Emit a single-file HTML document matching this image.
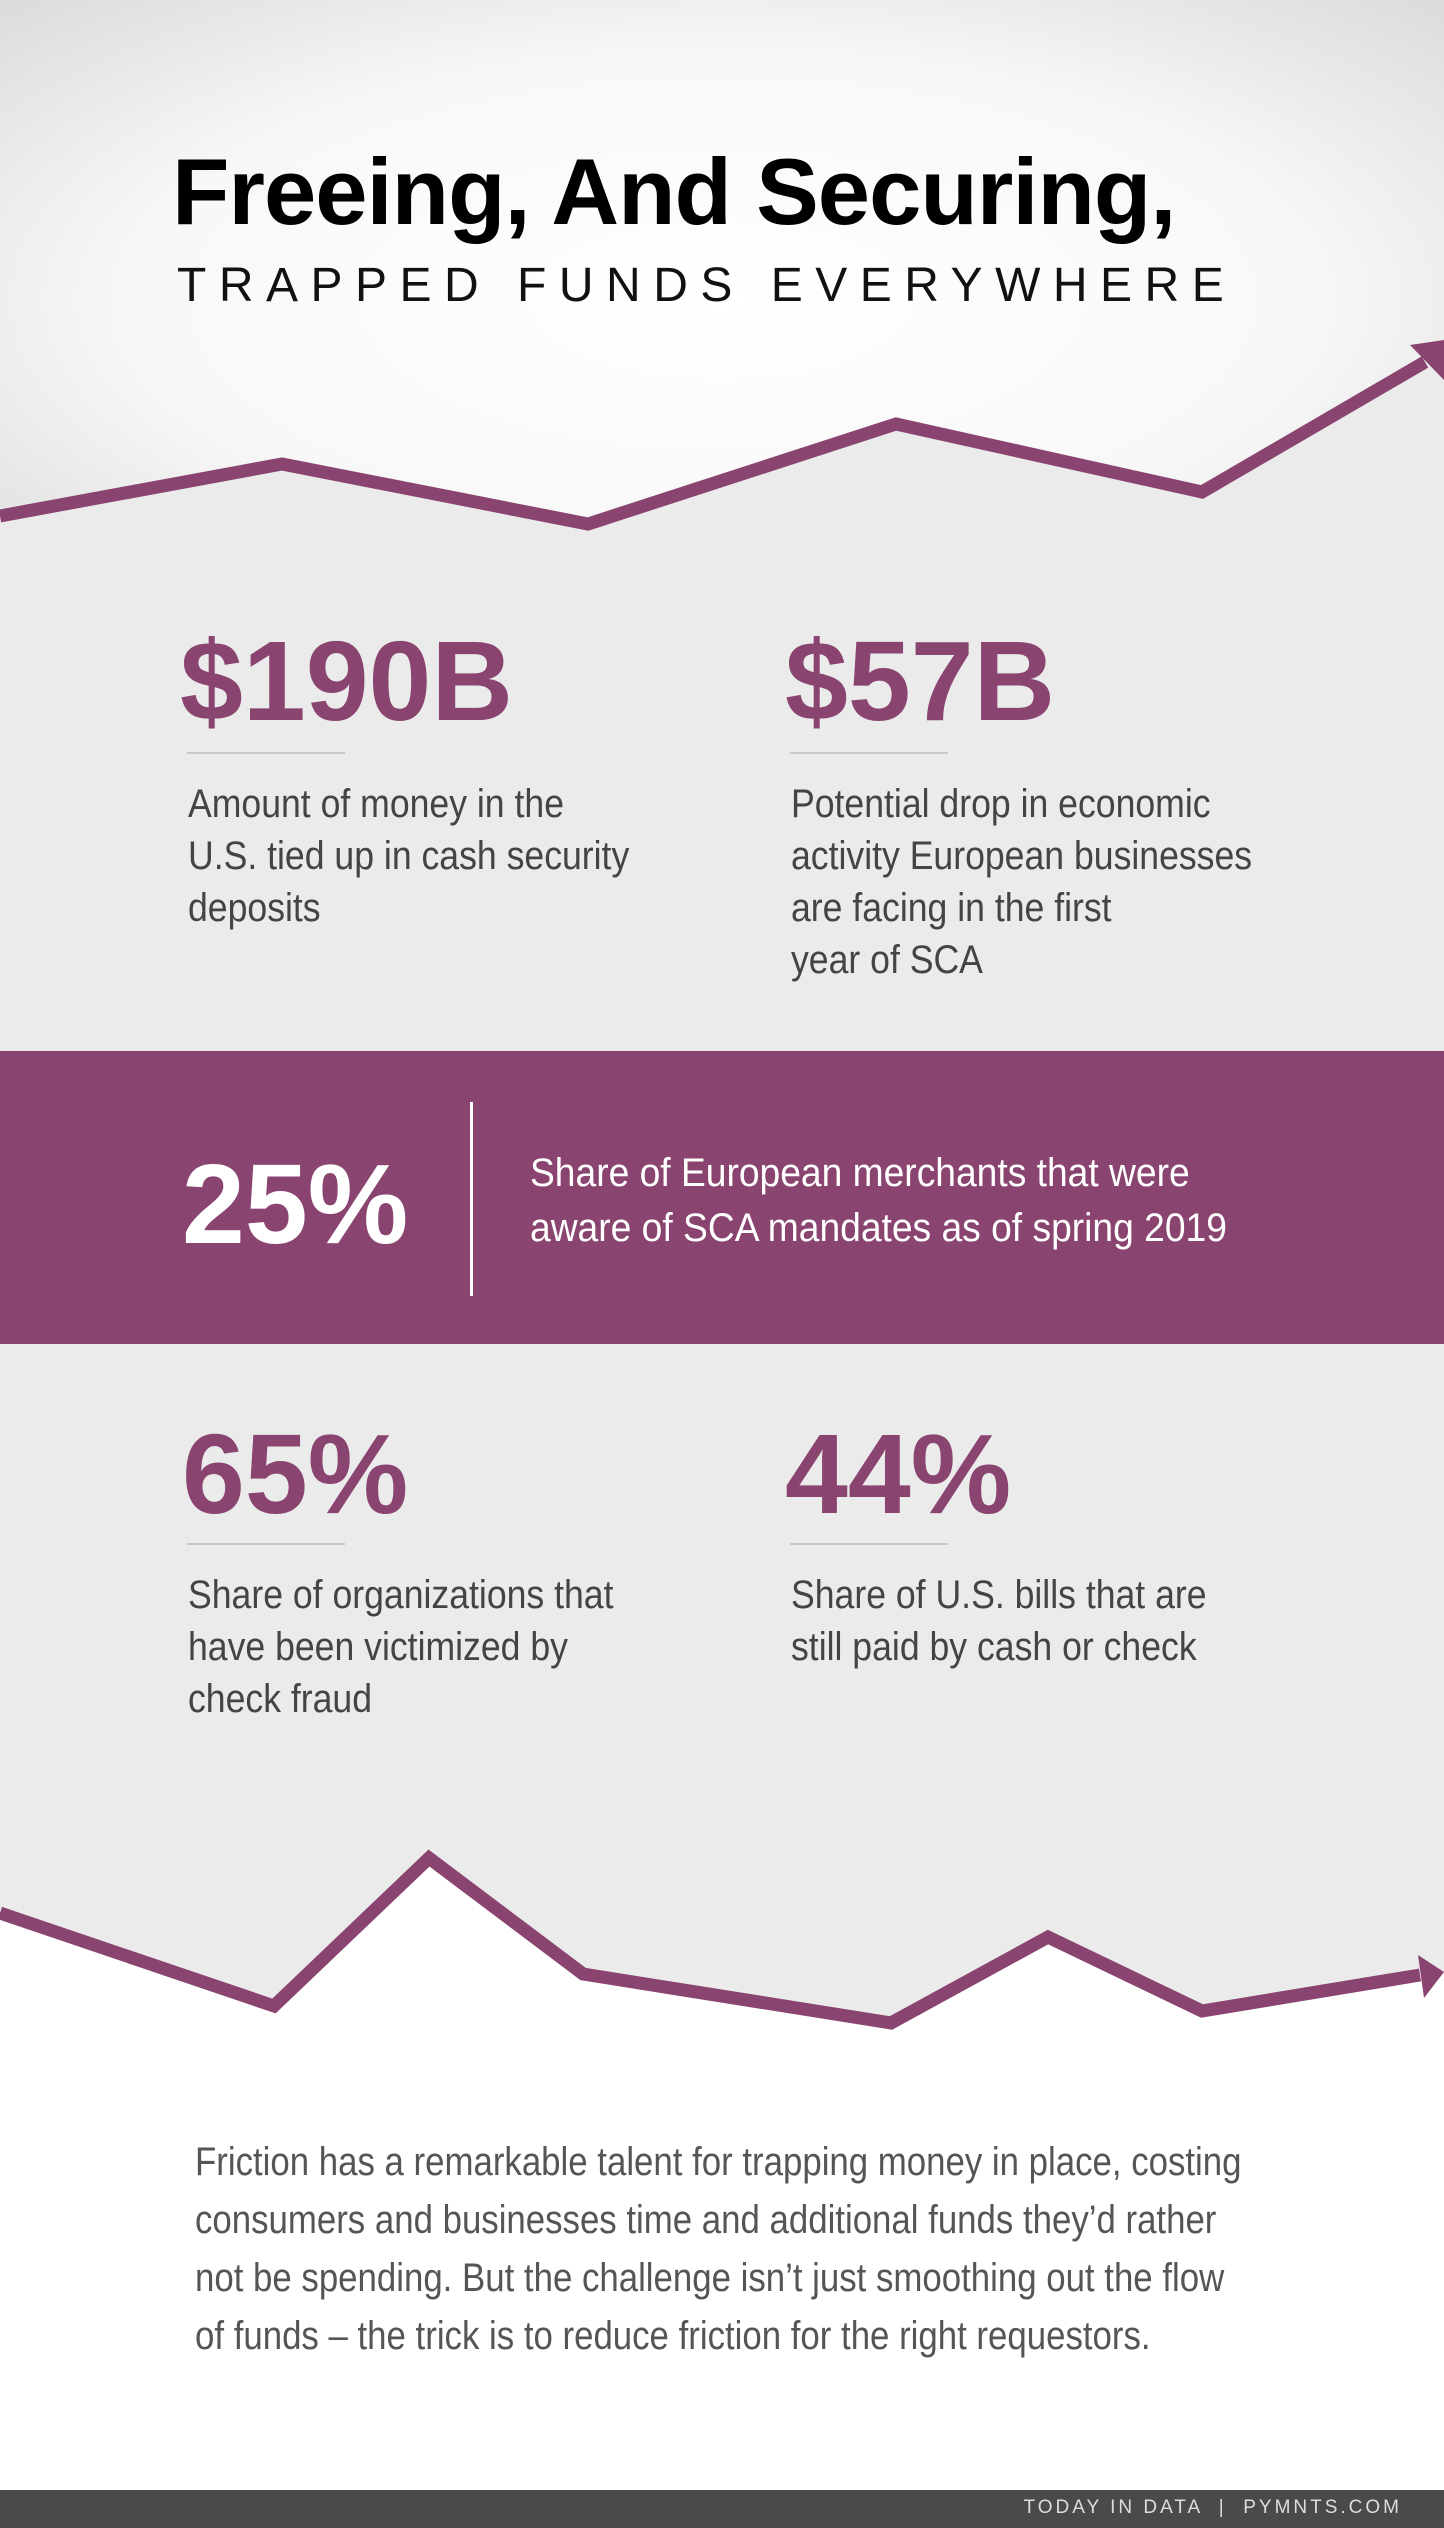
<!DOCTYPE html>
<html><head><meta charset="utf-8"><style>
*{margin:0;padding:0;box-sizing:border-box}
body{width:1444px;height:2528px;position:relative;overflow:hidden;background:#fff;font-family:"Liberation Sans",sans-serif}
.abs{position:absolute;white-space:nowrap}
.num{font-weight:bold;color:#8a4470;font-size:113px;letter-spacing:0px;line-height:1}
.ul{position:absolute;height:2px;background:#c8c8c8;width:158px}
.txt{font-family:"Liberation Sans",sans-serif;font-size:40px;color:#444;line-height:52px;white-space:nowrap;transform:scaleX(0.89);transform-origin:0 0}
</style></head><body>
<svg class="abs" style="left:0;top:0" width="1444" height="2528">
<defs>
<radialGradient id="g" cx="50%" cy="50%" r="80%">
<stop offset="0" stop-color="#ffffff"/><stop offset="0.5" stop-color="#f8f8f8"/><stop offset="1" stop-color="#d2d2d2"/>
</radialGradient>
</defs>
<rect x="0" y="0" width="1444" height="600" fill="url(#g)"/>
<polygon points="0,516 282,464 588,524 896,424 1202,492 1444,348 1444,1400 0,1400" fill="#ebebeb"/>
<polygon points="0,1913 274,2006 429,1858 583,1974 891,2023 1048,1937 1202,2011 1444,1972 1444,1340 0,1340" fill="#ebebeb"/>
<polyline points="0,516 282,464 588,524 896,424 1202,492 1425,362" fill="none" stroke="#8a4470" stroke-width="13"/>
<polygon points="1444,340 1444,380 1410,345" fill="#8a4470"/>
<polyline points="0,1913 274,2006 429,1858 583,1974 891,2023 1048,1937 1202,2011 1420,1975" fill="none" stroke="#8a4470" stroke-width="13"/>
<polygon points="1444,1972 1418,1955 1424,1998" fill="#8a4470"/>
<rect x="0" y="1051" width="1444" height="293" fill="#8a4470"/>
<rect x="470" y="1102" width="3" height="194" fill="#fff"/>
<rect x="0" y="2490" width="1444" height="38" fill="#4a4a4a"/>
</svg>
<div class="abs" style="left:172px;top:138px;font-size:94px;font-weight:bold;color:#000;letter-spacing:-1px">Freeing, And Securing,</div>
<div class="abs" style="left:177px;top:258px;font-size:48px;color:#111;letter-spacing:12.5px">TRAPPED FUNDS EVERYWHERE</div>

<div class="abs num" style="left:180px;top:625px">$190B</div>
<div class="ul" style="left:187px;top:752px"></div>
<div class="abs txt" style="left:188px;top:778px">Amount of money in the<br>U.S. tied up in cash security<br>deposits</div>

<div class="abs num" style="left:785px;top:625px">$57B</div>
<div class="ul" style="left:790px;top:752px"></div>
<div class="abs txt" style="left:791px;top:778px">Potential drop in economic<br>activity European businesses<br>are facing in the first<br>year of SCA</div>

<div class="abs num" style="left:182px;top:1148px;color:#fff">25%</div>
<div class="abs txt" style="left:530px;top:1146px;color:#fff;line-height:55px;transform:scaleX(0.93)">Share of European merchants that were<br>aware of SCA mandates as of spring 2019</div>

<div class="abs num" style="left:182px;top:1418px">65%</div>
<div class="ul" style="left:187px;top:1543px"></div>
<div class="abs txt" style="left:188px;top:1569px">Share of organizations that<br>have been victimized by<br>check fraud</div>

<div class="abs num" style="left:785px;top:1418px">44%</div>
<div class="ul" style="left:790px;top:1543px"></div>
<div class="abs txt" style="left:791px;top:1569px">Share of U.S. bills that are<br>still paid by cash or check</div>

<div class="abs txt" style="left:195px;top:2133px;color:#555;line-height:58px;transform:scaleX(0.87)">Friction has a remarkable talent for trapping money in place, costing<br>consumers and businesses time and additional funds they’d rather<br>not be spending. But the challenge isn’t just smoothing out the flow<br>of funds – the trick is to reduce friction for the right requestors.</div>

<div class="abs" style="right:42px;top:2497px;font-size:19px;color:#ddd;letter-spacing:3px">TODAY IN DATA &nbsp;| &nbsp;PYMNTS.COM</div>
</body></html>
